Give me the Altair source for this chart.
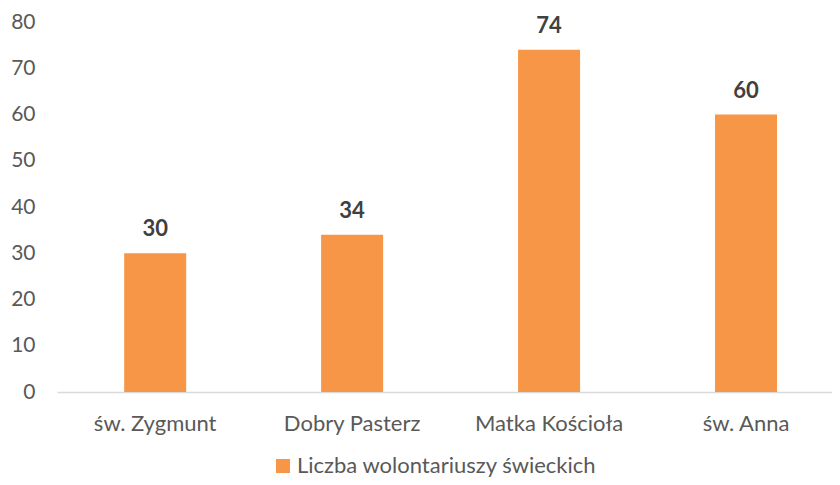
import altair as alt
import pandas as pd

categories = ["św. Zygmunt", "Dobry Pasterz", "Matka Kościoła", "św. Anna"]
values = [30, 34, 74, 60]
series_name = "Liczba wolontariuszy świeckich"

df = pd.DataFrame({"parafia": categories, "liczba": values, "seria": [series_name] * len(categories)})

FONT = "Lato"
FS = 22

base = alt.Chart(df).encode(
    x=alt.X("parafia:N", sort=categories, title=None,
            scale=alt.Scale(paddingInner=0.685, paddingOuter=0.31, align=0.55),
            axis=alt.Axis(labelAngle=0, ticks=False, domainColor="#d9d9d9", domainWidth=1.3,
                          labelColor="#595959", labelFontSize=FS, labelFont=FONT, labelPadding=21)),
    y=alt.Y("liczba:Q", title=None,
            scale=alt.Scale(domain=[0, 80]),
            axis=alt.Axis(values=list(range(0, 81, 10)), grid=False, domain=False, ticks=False,
                          labelColor="#595959", labelFontSize=21, labelFont=FONT, labelPadding=22)),
)

bars = base.mark_bar(size=62).encode(
    color=alt.Color("seria:N", scale=alt.Scale(range=["#F79646"]), title=None,
                    legend=alt.Legend(orient="none", legendX=215, legendY=433,
                                      symbolType="square", symbolSize=196, symbolStrokeWidth=0,
                                      labelFontSize=FS, labelFont=FONT, labelColor="#595959",
                                      labelLimit=500, labelOffset=3))
)

labels = base.mark_text(baseline="bottom", dy=-12, fontSize=FS, fontWeight="bold",
                        font=FONT, color="#404040").encode(text="liczba:Q")

chart = alt.layer(bars, labels).properties(
    width=775, height=370,
    autosize=alt.AutoSizeParams(type="none"),
    padding={"left": 49, "top": 14, "right": 0, "bottom": 85},
).configure(background="white", view=alt.ViewConfig(stroke=None))

chart.save("out.html", embed_options={"renderer": "svg", "actions": False})
